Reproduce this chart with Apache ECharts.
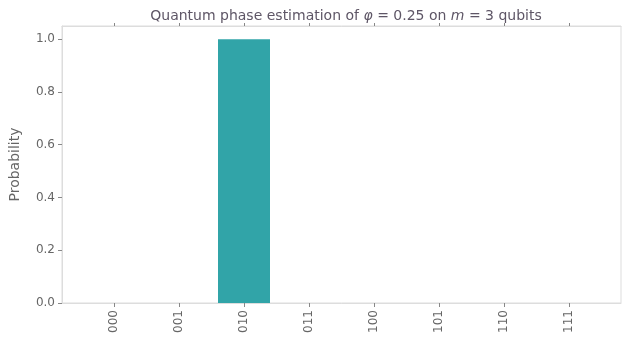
<!DOCTYPE html>
<html><head><meta charset="utf-8">
<script src="https://cdn.jsdelivr.net/npm/echarts@6/dist/echarts.min.js"></script>
<style>html,body{margin:0;padding:0;background:#fff}#c{width:627px;height:340px}</style>
</head><body><div id="c"></div>
<script>
const categories = ['000','001','010','011','100','101','110','111'];
const probabilities = [0, 0, 1.0, 0, 0, 0, 0, 0];
const yTicks = [0, 0.2, 0.4, 0.6, 0.8, 1.0];

const idx = categories.map((_, i) => i);
const font = 'DejaVu Sans';
const txt = '#666666';
const frame = '#dddddd';
const chart = echarts.init(document.getElementById('c'));
chart.setOption({
  animation: false,
  title: {
    text: 'Quantum phase estimation of {i|φ} = 0.25 on {i|m} = 3 qubits',
    left: 341, top: 4, textAlign: 'center',
    textStyle: {
      fontFamily: font, fontSize: 14, fontWeight: 'normal', color: '#5e5666',
      rich: { i: { fontFamily: font, fontStyle: 'italic', fontSize: 14, color: '#5e5666' } }
    }
  },
  grid: { left: 62, right: 6, top: 26, bottom: 37, show: true, borderColor: frame, borderWidth: 1 },
  xAxis: [{
    type: 'value', min: -0.8, max: 7.8, position: 'bottom',
    splitLine: { show: false },
    axisLine: { show: true, onZero: false, lineStyle: { color: frame } },
    axisTick: { show: true, length: 4, customValues: idx, lineStyle: { color: '#888' } },
    axisLabel: { customValues: idx, rotate: 90, margin: 7, fontFamily: font, fontSize: 12, color: txt,
      formatter: v => categories[Math.round(v)] }
  }, {
    type: 'value', min: -0.8, max: 7.8, position: 'top',
    splitLine: { show: false },
    axisLine: { show: true, onZero: false, lineStyle: { color: frame } },
    axisTick: { show: true, length: 3, customValues: idx, lineStyle: { color: '#888' } },
    axisLabel: { show: false }
  }],
  yAxis: {
    type: 'value', min: 0, max: 1.05, position: 'left',
    name: 'Probability', nameLocation: 'middle', nameGap: 40, nameRotate: 90,
    nameTextStyle: { fontFamily: font, fontSize: 14, color: txt },
    splitLine: { show: false },
    axisLine: { show: true, onZero: false, lineStyle: { color: frame } },
    axisTick: { show: true, length: 4, customValues: yTicks, lineStyle: { color: '#888' } },
    axisLabel: { customValues: yTicks, fontFamily: font, fontSize: 12, color: txt, margin: 7,
      formatter: v => v.toFixed(1) }
  },
  series: [{
    type: 'bar', xAxisIndex: 0,
    data: probabilities.map((p, i) => [i, p]),
    barWidth: 52,
    itemStyle: { color: '#31a4a8' }
  }]
});
</script></body></html>
